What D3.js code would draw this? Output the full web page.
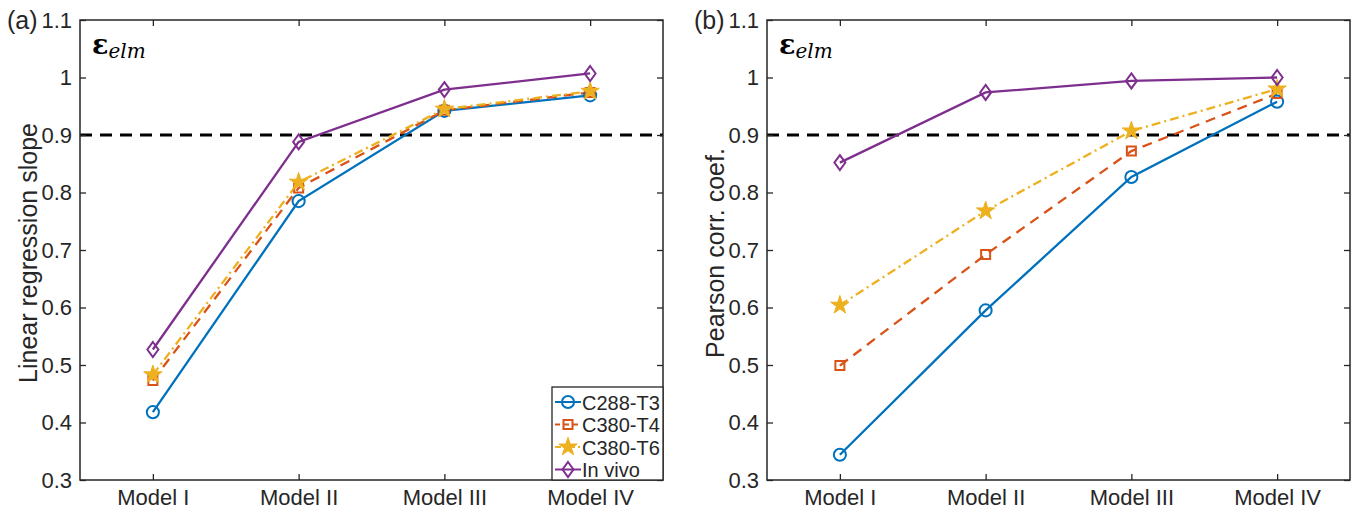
<!DOCTYPE html>
<meta charset="utf-8">
<style>
body { margin: 0; background: #fff; }
svg { font-family: "Liberation Sans", Arial, Helvetica, sans-serif; }
</style>
<svg width="1360" height="516"></svg>
<script src="https://d3js.org/d3.v7.min.js"></script>
<script>

// categories and series
var models = ["Model I", "Model II", "Model III", "Model IV"];
var seriesNames = ["C288-T3", "C380-T4", "C380-T6", "In vivo"];
var yTicks = [0.3, 0.4, 0.5, 0.6, 0.7, 0.8, 0.9, 1, 1.1];
var threshold = 0.9;

// (a) linear regression slope
var slopeC288T3 = [0.418, 0.785, 0.942, 0.969];
var slopeC380T4 = [0.473, 0.808, 0.943, 0.974];
var slopeC380T6 = [0.483, 0.818, 0.945, 0.976];
var slopeInVivo = [0.527, 0.888, 0.979, 1.007];

// (b) pearson correlation
var pearsonC288T3 = [0.344, 0.595, 0.827, 0.958];
var pearsonC380T4 = [0.499, 0.692, 0.872, 0.972];
var pearsonC380T6 = [0.604, 0.768, 0.907, 0.980];
var pearsonInVivo = [0.852, 0.974, 0.994, 1.000];

var colors = ["#0072BD", "#D95319", "#EDB120", "#7E2F8E"];
var dashes = [null, "10,7", "9,4,2,4", null];
var markers = ["circle", "square", "star", "diamond"];

var svg = d3.select("svg");
var axisColor = "#262626";

function markerPath(type) {
  if (type == "circle") return d3.symbol().type(d3.symbolCircle).size(115)();
  if (type == "square") return "M-4.5,-4.5H4.5V4.5H-4.5Z";
  if (type == "star") return d3.symbol().type(d3.symbolStar).size(105)();
  return "M0,-7.5L5.5,0L0,7.5L-5.5,0Z";
}

function drawMarker(sel, i) {
  sel.append("path")
    .attr("d", markerPath(markers[i]))
    .attr("fill", markers[i] == "star" ? colors[i] : "none")
    .attr("stroke", colors[i])
    .attr("stroke-width", markers[i] == "star" ? 1 : 2);
}

function drawPanel(opt) {
  var x = d3.scalePoint().domain(models).range([opt.left, opt.right]).padding(0.5);
  var y = d3.scaleLinear().domain([0.3, 1.1]).range([opt.bottom, opt.top]);
  var g = svg.append("g");

  // threshold line
  g.append("line")
    .attr("x1", opt.left).attr("x2", opt.right)
    .attr("y1", y(threshold)).attr("y2", y(threshold))
    .attr("stroke", "#000").attr("stroke-width", 3)
    .attr("stroke-dasharray", "12,8");

  // axes (MATLAB style, inward ticks)
  var ax = g.append("g").attr("transform", "translate(" + opt.left + ",0)")
    .call(d3.axisLeft(y).tickValues(yTicks).tickSize(-6).tickPadding(8)
      .tickFormat(function(d) { return d3.format("")(+d.toFixed(1)); }));
  var axR = g.append("g").attr("transform", "translate(" + opt.right + ",0)")
    .call(d3.axisRight(y).tickValues(yTicks).tickSize(-6).tickFormat(""));
  var axB = g.append("g").attr("transform", "translate(0," + opt.bottom + ")")
    .call(d3.axisBottom(x).tickSize(-6).tickPadding(9));
  var axT = g.append("g").attr("transform", "translate(0," + opt.top + ")")
    .call(d3.axisTop(x).tickSize(-6).tickFormat(""));
  [ax, axR, axB, axT].forEach(function(a) {
    a.select(".domain").remove();
    a.selectAll("line").attr("stroke", axisColor).attr("stroke-width", 1.3);
    a.selectAll("text").attr("font-size", 22).attr("fill", axisColor)
      .attr("font-family", "Liberation Sans, Arial, sans-serif");
  });
  g.append("rect")
    .attr("x", opt.left).attr("y", opt.top)
    .attr("width", opt.right - opt.left).attr("height", opt.bottom - opt.top)
    .attr("fill", "none").attr("stroke", axisColor).attr("stroke-width", 1.5);

  // series
  var line = d3.line().x(function(d, i) { return x(models[i]); }).y(function(d) { return y(d); });
  opt.series.forEach(function(vals, i) {
    g.append("path")
      .attr("d", line(vals))
      .attr("fill", "none")
      .attr("stroke", colors[i])
      .attr("stroke-width", 2.3)
      .attr("stroke-dasharray", dashes[i]);
  });
  opt.series.forEach(function(vals, i) {
    vals.forEach(function(v, j) {
      var m = g.append("g").attr("transform", "translate(" + x(models[j]) + "," + y(v) + ")");
      drawMarker(m, i);
    });
  });

  // y label
  g.append("text")
    .attr("transform", "translate(" + opt.ylabelX + "," + ((opt.top + opt.bottom) / 2 + 3) + ") rotate(-90)")
    .attr("text-anchor", "middle")
    .attr("font-size", 25)
    .attr("fill", axisColor)
    .text(opt.ylabel);

  // panel letter
  g.append("text")
    .attr("x", opt.left - 73).attr("y", opt.top + 9)
    .attr("font-size", 25).attr("fill", axisColor)
    .text(opt.letter);

  // epsilon label
  var eps = g.append("text")
    .attr("x", opt.left + 12).attr("y", opt.top + 34)
    .attr("font-family", "DejaVu Serif, Liberation Serif, serif")
    .attr("fill", "#000");
  eps.append("tspan").attr("font-size", 27).attr("font-weight", "bold").text("ε");
  eps.append("tspan").attr("font-size", 20).attr("font-style", "italic").attr("dy", 4).text("elm");

  return { x: x, y: y, g: g };
}

drawPanel({
  left: 80, right: 663, top: 20, bottom: 480,
  series: [slopeC288T3, slopeC380T4, slopeC380T6, slopeInVivo],
  ylabel: "Linear regression slope", ylabelX: 37, letter: "(a)"
});

drawPanel({
  left: 767, right: 1350, top: 20, bottom: 480,
  series: [pearsonC288T3, pearsonC380T4, pearsonC380T6, pearsonInVivo],
  ylabel: "Pearson corr. coef.", ylabelX: 724, letter: "(b)"
});

// legend in panel (a)
var leg = svg.append("g").attr("transform", "translate(552,387)");
leg.append("rect").attr("width", 111).attr("height", 93)
  .attr("fill", "#fff").attr("stroke", axisColor).attr("stroke-width", 1.3);
seriesNames.forEach(function(name, i) {
  var row = leg.append("g").attr("transform", "translate(0," + (15 + i * 22.5) + ")");
  row.append("line").attr("x1", 3).attr("x2", 29)
    .attr("stroke", colors[i]).attr("stroke-width", 2)
    .attr("stroke-dasharray", dashes[i] ? (i == 1 ? "5,4" : "6,3,2,3") : null);
  drawMarker(row.append("g").attr("transform", "translate(16,0)"), i);
  row.append("text").attr("x", 30).attr("y", 7.5)
    .attr("font-size", 20).attr("fill", axisColor).text(name);
});
</script>
